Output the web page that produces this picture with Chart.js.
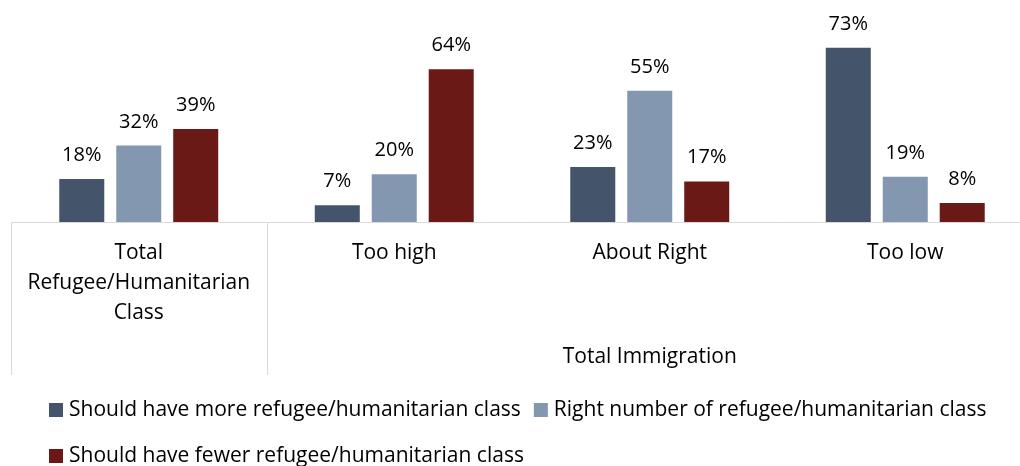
<!DOCTYPE html>
<html>
<head>
<meta charset="utf-8">
<script src="https://cdn.jsdelivr.net/npm/chart.js@4"></script>
<style>
  html, body { margin: 0; padding: 0; background: #fff; overflow: hidden; }
  #wrap { width: 1020px; height: 466px; overflow: hidden; }
</style>
</head>
<body>
<div id="wrap"><canvas id="bar" width="1040" height="466"></canvas></div>
<script>
// data
const categories = [['Total', 'Refugee/Humanitarian', 'Class'], 'Too high', 'About Right', 'Too low'];
const groupLabel = 'Total Immigration';
const seriesNames = [
  'Should have more refugee/humanitarian class',
  'Right number of refugee/humanitarian class',
  'Should have fewer refugee/humanitarian class'
];
const moreValues = [18, 7, 23, 73];
const rightValues = [32, 20, 55, 19];
const fewerValues = [39, 64, 17, 8];
const seriesColors = ['#44546A', '#8497B0', '#6B1916'];

const FONT = '"Open Sans", "Noto Sans", sans-serif';
const GRID = '#d9d9d9';

// value labels on top of bars
const valueLabels = {
  id: 'valueLabels',
  afterDatasetsDraw(chart) {
    const ctx = chart.ctx;
    ctx.save();
    ctx.font = '20px ' + FONT;
    ctx.fillStyle = '#000';
    ctx.textAlign = 'center';
    ctx.textBaseline = 'alphabetic';
    chart.data.datasets.forEach((ds, i) => {
      chart.getDatasetMeta(i).data.forEach((bar, j) => {
        ctx.fillText(ds.data[j] + '%', bar.x, bar.y - 18);
      });
    });
    ctx.restore();
  }
};

// group separators, outer label and legend
const axisExtras = {
  id: 'axisExtras',
  afterDraw(chart) {
    const ctx = chart.ctx;
    const x = chart.scales.x;
    const area = chart.chartArea;
    const half = (x.getPixelForValue(1) - x.getPixelForValue(0)) / 2;
    const bottom = area.bottom + 153;
    ctx.save();
    ctx.strokeStyle = GRID;
    ctx.lineWidth = 1;
    [0, 1].forEach(i => {
      const px = Math.round(x.getPixelForValue(i) - half) + 0.5;
      ctx.beginPath();
      ctx.moveTo(px, area.bottom);
      ctx.lineTo(px, bottom);
      ctx.stroke();
    });

    ctx.font = '21px ' + FONT;
    ctx.fillStyle = '#000';
    ctx.textAlign = 'center';
    ctx.textBaseline = 'middle';
    ctx.fillText(groupLabel, (x.getPixelForValue(1) + x.getPixelForValue(3)) / 2, 357);

    // legend
    ctx.textAlign = 'left';
    let lx = 49, ly = 410;
    chart.data.datasets.forEach((ds, i) => {
      const w = 20 + ctx.measureText(ds.label).width;
      if (i > 0 && lx + w > 1015) { lx = 49; ly += 46; }
      ctx.fillStyle = ds.backgroundColor;
      ctx.fillRect(lx, ly - 7, 14, 14);
      ctx.fillStyle = '#000';
      ctx.fillText(ds.label, lx + 20, ly);
      lx += w + 13;
    });
    ctx.restore();
  }
};

new Chart(document.getElementById('bar'), {
  type: 'bar',
  data: {
    labels: categories,
    datasets: [
      { label: seriesNames[0], data: moreValues, backgroundColor: seriesColors[0] },
      { label: seriesNames[1], data: rightValues, backgroundColor: seriesColors[1] },
      { label: seriesNames[2], data: fewerValues, backgroundColor: seriesColors[2] },
    ],
  },
  options: {
    responsive: false,
    animation: false,
    layout: { padding: { left: 11, right: 7, top: 31, bottom: 91 } },
    datasets: { bar: { categoryPercentage: 0.669, barPercentage: 0.79 } },
    plugins: {
      legend: { display: false },
      tooltip: { enabled: false },
    },
    scales: {
      x: {
        grid: { display: true, drawOnChartArea: false, drawTicks: false, color: 'rgba(0,0,0,0)' },
        border: { display: true, color: GRID, width: 1 },
        ticks: {
          autoSkip: false,
          maxRotation: 0,
          padding: 16,
          color: '#000',
          font: { family: FONT, size: 21, lineHeight: 1.42 },
        },
        afterFit(scale) { scale.height = 153; },
      },
      y: {
        display: false,
        min: 0,
        max: 80,
      },
    },
  },
  plugins: [valueLabels, axisExtras],
});
</script>
</body>
</html>
